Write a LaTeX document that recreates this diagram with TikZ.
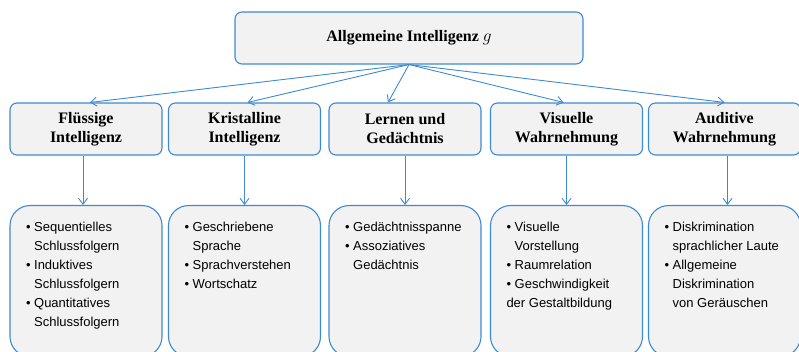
\documentclass[tikz,border=0pt]{standalone}
\usepackage{fontspec}
\setmainfont{Liberation Serif}
\newfontfamily\listfont{Liberation Sans}
\usetikzlibrary{arrows.meta,positioning}

\definecolor{boxblue}{RGB}{62,138,208}
\definecolor{boxgray}{RGB}{242,242,242}

\tikzset{
  headbox/.style={draw=boxblue, line width=1.1pt, fill=boxgray,
    rounded corners=7pt, minimum width=152pt, minimum height=52pt,
    inner sep=0pt, align=center, font=\fontsize{16}{19}\selectfont\bfseries},
  listbox/.style={draw=boxblue, line width=1.1pt, fill=boxgray,
    rounded corners=20pt, anchor=north, inner xsep=16pt, inner ysep=16.5pt,
    font=\listfont\fontsize{13}{19}\selectfont},
  link/.style={draw=boxblue, line width=0.9pt,
    -{Straight Barb[length=6pt,width=9pt]}}
}
\newcommand{\itemlist}[1]{\parbox[t][118pt][t]{120pt}{\raggedright #1}}
\newcommand{\bul}{\textbullet\ }
\newcommand{\cont}{\hphantom{\textbullet}\ }

\begin{document}
\begin{tikzpicture}[x=1pt, y=-1pt]
  \def\Mid{129}
  \def\Low{205}
  \useasboundingbox (0,0) rectangle (799,352);
  % top
  \node[headbox, minimum width=348pt] (gen) at (409,38)
    {Allgemeine Intelligenz $g$};
  % broad abilities
  \node[headbox] (flu)  at (86,\Mid)    {Flüssige\\Intelligenz};
  \node[headbox] (kri)  at (244.5,\Mid) {Kristalline\\Intelligenz};
  \node[headbox] (lern) at (405,\Mid)   {Lernen und\\Gedächtnis};
  \node[headbox] (vis)  at (566.5,\Mid) {Visuelle\\Wahrnehmung};
  \node[headbox] (aud)  at (724.5,\Mid) {Auditive\\Wahrnehmung};
  % narrow abilities
  \node[listbox] (flulist) at (86,\Low) {\itemlist{%
    \bul Sequentielles\\ \cont Schlussfolgern\\
    \bul Induktives\\ \cont Schlussfolgern\\
    \bul Quantitatives\\ \cont Schlussfolgern}};
  \node[listbox] (krilist) at (244.5,\Low) {\itemlist{%
    \bul Geschriebene\\ \cont Sprache\\
    \bul Sprachverstehen\\
    \bul Wortschatz}};
  \node[listbox] (lernlist) at (405,\Low) {\itemlist{%
    \bul Gedächtnisspanne\\
    \bul Assoziatives\\ \cont Gedächtnis}};
  \node[listbox] (vislist) at (566.5,\Low) {\itemlist{%
    \bul Visuelle\\ \cont Vorstellung\\
    \bul Raumrelation\\
    \bul Geschwindigkeit\\ der Gestaltbildung}};
  \node[listbox] (audlist) at (724.5,\Low) {\itemlist{%
    \bul Diskrimination\\ \cont sprachlicher Laute\\
    \bul Allgemeine\\ \cont Diskrimination\\ \cont von Geräuschen}};
  % g to broad abilities
  \draw[link] (gen.south) -- ([xshift=4pt]flu.north);
  \draw[link] (gen.south) -- ([xshift=3pt]kri.north);
  \draw[link] (gen.south) -- ([xshift=-17pt]lern.north);
  \draw[link] (gen.south) -- ([xshift=-3pt]vis.north);
  \draw[link] (gen.south) -- (aud.north);
  % broad to narrow
  \draw[link] ([xshift=-3pt]flu.south) -- ([xshift=-3pt]flulist.north);
  \draw[link] (kri.south) -- (krilist.north);
  \draw[link] (lern.south) -- (lernlist.north);
  \draw[link] (vis.south) -- (vislist.north);
  \draw[link] ([xshift=3pt]aud.south) -- ([xshift=3pt]audlist.north);
\end{tikzpicture}
\end{document}
